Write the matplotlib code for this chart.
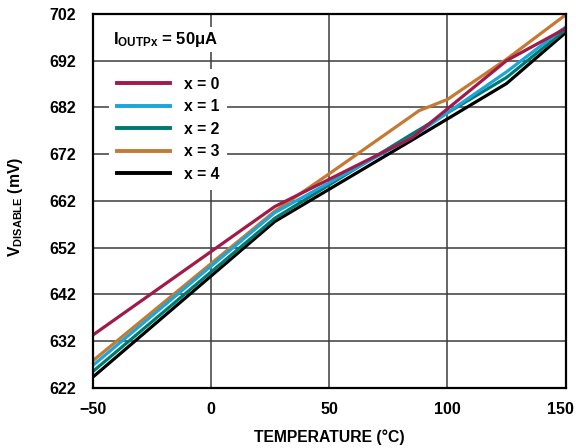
import matplotlib
matplotlib.use("Agg")
import matplotlib.pyplot as plt
from matplotlib.transforms import ScaledTranslation

plt.rcParams['font.family'] = ['Liberation Sans', 'DejaVu Sans']
plt.rcParams['font.weight'] = 'bold'
plt.rcParams['mathtext.fontset'] = 'custom'
plt.rcParams['mathtext.rm'] = 'Liberation Sans:bold'
plt.rcParams['mathtext.bf'] = 'Liberation Sans:bold'
plt.rcParams['mathtext.it'] = 'Liberation Sans:bold'

# temperature (C) and V_DISABLE (mV)
temp_x0 = [-50, 27, 85, 125, 150]
vdis_x0 = [633.3, 660.8, 675.5, 692.0, 698.9]
temp_x1 = [-50, 27, 85, 125, 150]
vdis_x1 = [626.8, 659.5, 675.6, 689.6, 699.2]
temp_x2 = [-50, 27, 85, 125, 150]
vdis_x2 = [625.5, 658.3, 676.3, 688.4, 698.6]
temp_x3 = [-50, 27, 50, 88, 100, 125, 150]
vdis_x3 = [627.8, 659.8, 667.8, 681.3, 683.7, 692.3, 701.8]
temp_x4 = [-50, 27, 85, 125, 150]
vdis_x4 = [624.3, 657.6, 675.0, 687.1, 698.0]

labels = ['x = 0', 'x = 1', 'x = 2', 'x = 3', 'x = 4']
colors = ['#A01A4A', '#1AA6DA', '#007A70', '#C47A32', '#000000']

x_ticks = [-50, 0, 50, 100, 150]
y_ticks = [622, 632, 642, 652, 662, 672, 682, 692, 702]

fig = plt.figure(figsize=(5.76, 4.48), dpi=100)
ax = fig.add_subplot(111)
fig.subplots_adjust(left=0.161, right=0.982, top=0.969, bottom=0.134)

series = [(temp_x0, vdis_x0), (temp_x1, vdis_x1), (temp_x2, vdis_x2),
          (temp_x3, vdis_x3), (temp_x4, vdis_x4)]
lines = [None] * 5
# draw order: black at the back, maroon on top
for i in [4, 2, 3, 1, 0]:
    t, v = series[i]
    lines[i], = ax.plot(t, v, color=colors[i], lw=2.3, label=labels[i],
                        solid_joinstyle='miter', zorder=3 + (4 - i))

ax.set_xlim(-50, 150)
ax.set_ylim(622, 702)
ax.set_xticks(x_ticks)
ax.set_yticks(y_ticks)
ax.tick_params(axis='x', length=0, labelsize=11.5, pad=10)
ax.tick_params(axis='y', length=0, labelsize=11.5, pad=12)
for lab in ax.get_xticklabels() + ax.get_yticklabels():
    lab.set_fontweight('bold')
# nudge the last x label so it stays inside the figure
last = ax.get_xticklabels()[-1]
last.set_transform(last.get_transform() + ScaledTranslation(-4 / 72, 0, fig.dpi_scale_trans))
ax.grid(True, color='#3c3c3c', lw=1.1, zorder=1)
for s in ax.spines.values():
    s.set_linewidth(1.6)
    s.set_zorder(10)

ax.set_xlabel('TEMPERATURE (°C)', fontsize=11.3, fontweight='bold')
ax.set_ylabel(r'$\mathbf{V_{DISABLE}}$ (mV)', fontsize=11.3, fontweight='bold')
ax.xaxis.set_label_coords(0.5, -0.112)
ax.yaxis.set_label_coords(-0.143, 0.485)

ax.text(0.043, 0.932, r'$\mathbf{I_{OUTPx}}$ = 50μA', transform=ax.transAxes,
        fontsize=12, fontweight='bold', va='center', ha='left', zorder=9,
        bbox=dict(facecolor='white', edgecolor='none', pad=2))

leg = ax.legend(handles=lines, loc='upper left', bbox_to_anchor=(0.034, 0.853),
                borderaxespad=0, frameon=True, fancybox=False, framealpha=1,
                edgecolor='none', facecolor='white', handlelength=3.4,
                handletextpad=0.9, labelspacing=0.48, borderpad=0.5,
                prop={'size': 11.3, 'weight': 'bold'})
leg.set_zorder(9)
for h in leg.get_lines():
    h.set_linewidth(2.8)

fig.savefig('out.png', dpi=100)
